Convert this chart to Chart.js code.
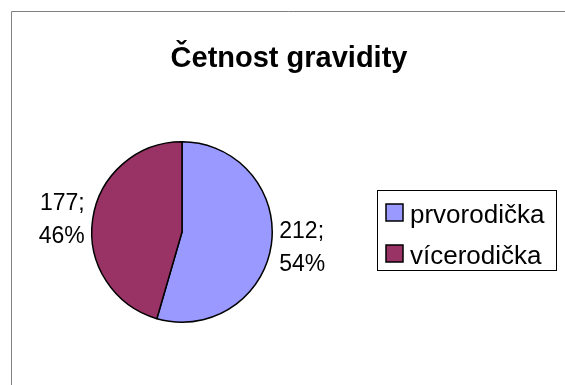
<!DOCTYPE html>
<html>
<head>
<meta charset="utf-8">
<script src="https://cdn.jsdelivr.net/npm/chart.js@4/dist/chart.umd.min.js"></script>
<style>
  html, body { margin: 0; padding: 0; background: #fff; }
  #wrap { width: 565px; height: 385px; position: relative; }
</style>
</head>
<body>
<div id="wrap"><canvas id="chart"></canvas></div>
<script>
const title = 'Četnost gravidity';
const categories = ['prvorodička', 'vícerodička'];
const values = [212, 177];
const colors = ['#9999FF', '#993366'];

const font = '"Liberation Sans", Arial, sans-serif';

// frame, title, labels next to slices and the boxed legend
const extras = {
    id: 'extras',
    beforeDraw(chart) {
        const ctx = chart.ctx;
        ctx.save();
        ctx.strokeStyle = '#808080';
        ctx.lineWidth = 1;
        ctx.beginPath();
        ctx.moveTo(11.5, 385);
        ctx.lineTo(11.5, 11.5);
        ctx.lineTo(565, 11.5);
        ctx.stroke();
        ctx.restore();
    },
    afterDraw(chart) {
        const ctx = chart.ctx;
        ctx.save();

        ctx.fillStyle = '#000';
        ctx.font = 'bold 29px ' + font;
        ctx.textAlign = 'center';
        ctx.textBaseline = 'alphabetic';
        ctx.fillText(title, 289, 67);

        // data labels: "value;" over "percent"
        const total = values.reduce((a, b) => a + b, 0);
        const arcs = chart.getDatasetMeta(0).data;
        ctx.font = '23px ' + font;
        arcs.forEach(function(arc, i) {
            const p = arc.getProps(['x', 'y', 'startAngle', 'endAngle', 'outerRadius']);
            const mid = (p.startAngle + p.endAngle) / 2;
            const r = p.outerRadius + 8;
            const ax = p.x + Math.cos(mid) * r;
            const ay = p.y + Math.sin(mid) * r;
            ctx.textAlign = Math.cos(mid) >= 0 ? 'left' : 'right';
            const pct = Math.round(values[i] / total * 100) + '%';
            ctx.fillText(values[i] + ';', ax, ay - 8);
            ctx.fillText(pct, ax, ay + 25);
        });

        // legend
        ctx.strokeStyle = '#000';
        ctx.lineWidth = 1;
        ctx.strokeRect(377.5, 190.5, 179, 80);
        ctx.font = '26px ' + font;
        ctx.textAlign = 'left';
        categories.forEach(function(cat, i) {
            const y = 204 + i * 41;
            ctx.fillStyle = colors[i];
            ctx.fillRect(386, y, 17, 17);
            ctx.lineWidth = 1.5;
            ctx.strokeRect(386, y, 17, 17);
            ctx.fillStyle = '#000';
            ctx.fillText(cat, 410, y + 18.5);
        });
        ctx.restore();
    }
};

new Chart(document.getElementById('chart').getContext('2d'), {
    type: 'pie',
    data: {
        labels: categories,
        datasets: [{
            data: values,
            backgroundColor: colors,
            borderColor: '#000',
            borderWidth: 1.5
        }]
    },
    options: {
        responsive: true,
        maintainAspectRatio: false,
        animation: false,
        layout: {
            padding: { left: 91, right: 292, top: 141, bottom: 62 }
        },
        plugins: {
            legend: { display: false },
            title: { display: false },
            tooltip: { enabled: false }
        }
    },
    plugins: [extras]
});
</script>
</body>
</html>
